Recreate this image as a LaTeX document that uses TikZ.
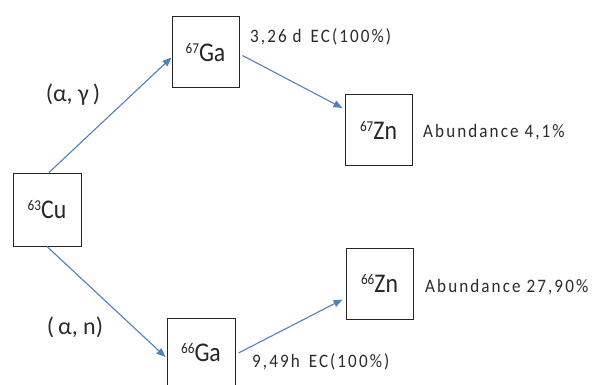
\documentclass[tikz,border=0pt]{standalone}
\usepackage{fontspec}
\setmainfont{Carlito}
\newfontfamily\labfont[LetterSpace=11,FakeStretch=0.9]{Carlito}
\newfontfamily\boxfont[FakeStretch=0.88]{Carlito}
\usetikzlibrary{arrows.meta}
\definecolor{arrowblue}{HTML}{4F81BD}
\definecolor{txt}{HTML}{2B2B2B}
\tikzset{
  nuc/.style={draw=black!85, line width=1pt, minimum width=67pt, minimum height=71pt, inner sep=0pt, text=black!85,
    font=\boxfont\fontsize{27}{27}\selectfont},
  conn/.style={draw=arrowblue, line width=1.1pt, -{Triangle[length=9pt,width=7pt]}},
  small/.style={text=txt, font=\labfont\fontsize{19}{19}\selectfont, inner sep=0pt, anchor=west},
  react/.style={text=txt, font=\fontsize{24}{24}\selectfont, inner sep=0pt}
}
\newcommand{\iso}[2]{\raisebox{8pt}{\fontsize{15}{15}\selectfont #1}#2}
\begin{document}
\begin{tikzpicture}[x=1pt,y=-1pt]
\clip (0,0) rectangle (597,385);
\fill[white] (0,0) rectangle (597,385);
\node[nuc, minimum width=68pt, minimum height=73pt] (cu) at (47,209.5) {\iso{63}{Cu}};
\node[nuc] (ga67) at (205.5,52.5) {\iso{67}{Ga}};
\node[nuc, minimum height=70pt] (zn67) at (378.5,130) {\iso{67}{Zn}};
\node[nuc, minimum width=68pt, minimum height=70pt] (ga66) at (201,353) {\iso{66}{Ga}};
\node[nuc] (zn66) at (379.5,283.5) {\iso{66}{Zn}};

\draw[conn] ([xshift=2pt]cu.north) -- ([yshift=-5pt]ga67.west);
\draw[conn] ([xshift=3pt,yshift=-3pt]ga67.east) -- ([xshift=-2pt,yshift=22pt]zn67.west);
\draw[conn] (cu.south) -- ([xshift=-1pt,yshift=-4pt]ga66.west);
\draw[conn] ([xshift=3pt]ga66.east) -- ([xshift=-3pt,yshift=-16pt]zn66.west);

\node[react] (ag) at (73,95) {(α, γ\,)};
\node[react] (an) at (75,327) {(\,α, n)};
\node[small] (ec1) at (250,37) {3,26 d\kern3pt\ EC(100\%)};
\node[small] (ab1) at (423,132) {Abundance 4,1\%};
\node[small] (ec2) at (252,362) {9,49h\kern3pt\ EC(100\%)};
\node[small] (ab2) at (425,287) {Abundance 27,90\%};
\end{tikzpicture}
\end{document}
